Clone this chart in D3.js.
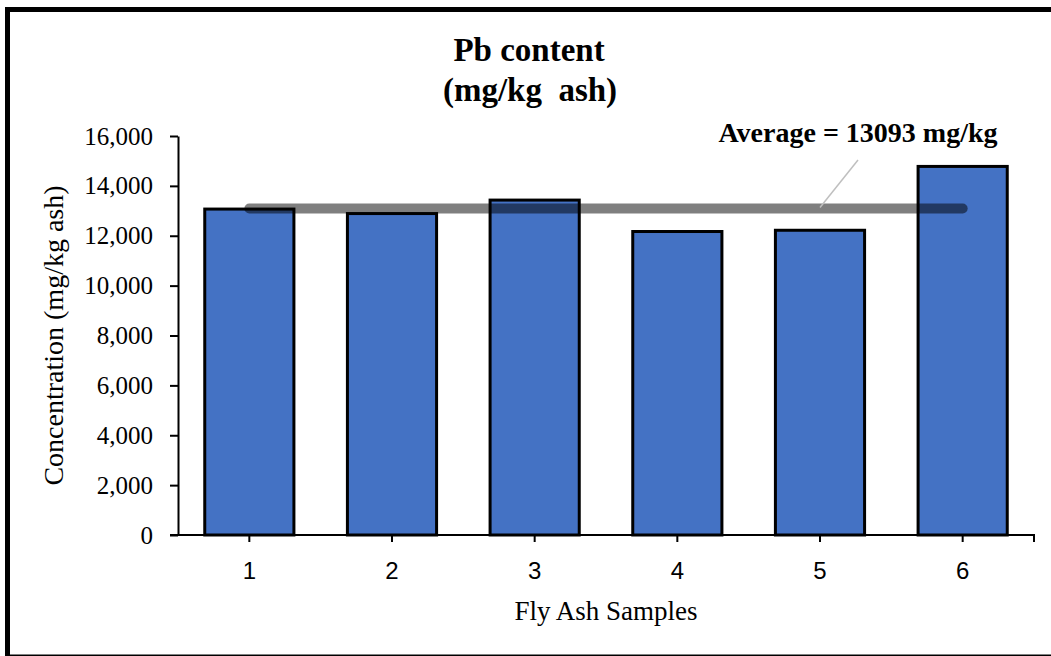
<!DOCTYPE html>
<html>
<head>
<meta charset="utf-8">
<script src="https://cdn.jsdelivr.net/npm/d3@7"></script>
<style>
  body { margin: 0; background: #fff; }
  svg { display: block; }
</style>
</head>
<body>
<div id="vis"></div>
<script>
// data
const samples = ["1", "2", "3", "4", "5", "6"];
const pbContent = [13070, 12890, 13430, 12170, 12220, 14780];
const yTicks = [0, 2000, 4000, 6000, 8000, 10000, 12000, 14000, 16000];
const average = 13093;

const width = 1051, height = 656;
const margin = { top: 136, right: 17, bottom: 121, left: 178 };
const serif = "'Liberation Serif', 'Times New Roman', serif";

const svg = d3.select("#vis").append("svg")
  .attr("width", width)
  .attr("height", height);

// outer frame
svg.append("rect")
  .attr("x", 7.5).attr("y", 9.5)
  .attr("width", 1060).attr("height", 647.5)
  .attr("fill", "none")
  .attr("stroke", "#000")
  .attr("stroke-width", 5);

const x = d3.scaleBand()
  .domain(samples)
  .range([margin.left, width - margin.right])
  .paddingInner(0.375)
  .paddingOuter(0.1875);

const y = d3.scaleLinear()
  .domain([0, 16000])
  .range([height - margin.bottom, margin.top]);

// bars
svg.append("g")
  .selectAll("rect")
  .data(samples)
  .join("rect")
    .attr("x", d => x(d))
    .attr("y", (d, i) => y(pbContent[i]))
    .attr("width", x.bandwidth())
    .attr("height", (d, i) => y(0) - y(pbContent[i]))
    .attr("fill", "#4472C4")
    .attr("stroke", "#000")
    .attr("stroke-width", 3);

// average line
const cx = d => x(d) + x.bandwidth() / 2;
svg.append("line")
  .attr("x1", cx(samples[0]))
  .attr("x2", cx(samples[samples.length - 1]))
  .attr("y1", y(average))
  .attr("y2", y(average))
  .attr("stroke", "#000")
  .attr("stroke-opacity", 0.5)
  .attr("stroke-width", 10)
  .attr("stroke-linecap", "round");

// y axis
const yAxis = svg.append("g")
  .attr("transform", `translate(${margin.left},0)`)
  .call(d3.axisLeft(y).tickValues(yTicks).tickFormat(d3.format(",")).tickSize(8).tickSizeOuter(0).tickPadding(17));
yAxis.select(".domain").attr("stroke-width", 2);
yAxis.selectAll(".tick line").attr("stroke-width", 2);
yAxis.selectAll(".tick text")
  .attr("font-family", serif)
  .attr("font-size", 25)
  .attr("fill", "#000");

// x axis
const xAxis = svg.append("g")
  .attr("transform", `translate(0,${y(0)})`)
  .call(d3.axisBottom(x).tickSize(7).tickSizeOuter(0).tickPadding(20));
xAxis.select(".domain")
  .attr("d", `M${margin.left - 8},0H${width - margin.right}V7`)
  .attr("stroke-width", 2);
xAxis.selectAll(".tick line").attr("stroke-width", 2);
xAxis.selectAll(".tick text")
  .attr("font-family", "'Liberation Sans', Arial, sans-serif")
  .attr("font-size", 24)
  .attr("fill", "#000");

// titles
const title = svg.append("text")
  .attr("text-anchor", "middle")
  .attr("font-family", serif)
  .attr("font-weight", "bold")
  .attr("font-size", 33)
  .style("white-space", "pre");
title.append("tspan").attr("x", 529).attr("y", 61).text("Pb content");
title.append("tspan").attr("x", 530).attr("y", 101).text("(mg/kg\u00A0 ash)");

svg.append("text")
  .attr("transform", `translate(63,${(margin.top + height - margin.bottom) / 2}) rotate(-90)`)
  .attr("text-anchor", "middle")
  .attr("font-family", serif)
  .attr("font-size", 28)
  .text("Concentration (mg/kg ash)");

svg.append("text")
  .attr("x", 606)
  .attr("y", 620)
  .attr("text-anchor", "middle")
  .attr("font-family", serif)
  .attr("font-size", 27)
  .text("Fly Ash Samples");

// average annotation with leader line
const labelX = 858, labelY = 142;
svg.append("line")
  .attr("x1", labelX).attr("y1", labelY + 18)
  .attr("x2", cx(samples[4])).attr("y2", y(average) - 1)
  .attr("stroke", "#bfbfbf")
  .attr("stroke-width", 1.5);
svg.append("text")
  .attr("x", labelX).attr("y", labelY)
  .attr("text-anchor", "middle")
  .attr("font-family", serif)
  .attr("font-weight", "bold")
  .attr("font-size", 28)
  .text(`Average = ${average} mg/kg`);
</script>
</body>
</html>
